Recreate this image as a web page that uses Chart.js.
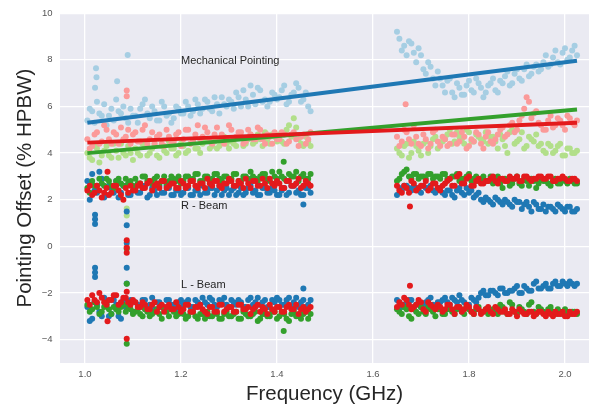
<!DOCTYPE html>
<html>
<head>
<meta charset="utf-8">
<script src="https://cdn.jsdelivr.net/npm/chart.js@4.4.0/dist/chart.umd.min.js"></script>
<style>
  html, body { margin: 0; padding: 0; background: #fff; }
</style>
</head>
<body>
<canvas id="chart" width="596" height="409"></canvas>
<script>
// frequency samples (GHz), two observing bands
const freq = [
  1.005, 1.015, 1.025, 1.035, 1.045, 1.055, 1.065, 1.075, 1.085, 1.095,
  1.105, 1.115, 1.125, 1.135, 1.145, 1.155, 1.165, 1.175, 1.185, 1.195,
  1.205, 1.215, 1.225, 1.235, 1.245, 1.255, 1.265, 1.275, 1.285, 1.295,
  1.305, 1.315, 1.325, 1.335, 1.345, 1.355, 1.365, 1.375, 1.385, 1.395,
  1.405, 1.415, 1.425, 1.435, 1.445, 1.455, 1.465,
  1.655, 1.665, 1.675, 1.685, 1.695, 1.705, 1.715, 1.725, 1.735, 1.745,
  1.755, 1.765, 1.775, 1.785, 1.795, 1.805, 1.815, 1.825, 1.835, 1.845,
  1.855, 1.865, 1.875, 1.885, 1.895, 1.905, 1.915, 1.925, 1.935, 1.945,
  1.955, 1.965, 1.975, 1.985, 1.995, 2.005, 2.015, 2.025
]
// second, interleaved pass of samples
const freq2 = [
  1.010, 1.020, 1.030, 1.040, 1.050, 1.060, 1.070, 1.080, 1.090, 1.100,
  1.110, 1.120, 1.130, 1.140, 1.150, 1.160, 1.170, 1.180, 1.190, 1.200,
  1.210, 1.220, 1.230, 1.240, 1.250, 1.260, 1.270, 1.280, 1.290, 1.300,
  1.310, 1.320, 1.330, 1.340, 1.350, 1.360, 1.370, 1.380, 1.390, 1.400,
  1.410, 1.420, 1.430, 1.440, 1.450, 1.460, 1.470,
  1.650, 1.660, 1.670, 1.680, 1.690, 1.700, 1.710, 1.720, 1.730, 1.740,
  1.750, 1.760, 1.770, 1.780, 1.790, 1.800, 1.810, 1.820, 1.830, 1.840,
  1.850, 1.860, 1.870, 1.880, 1.890, 1.900, 1.910, 1.920, 1.930, 1.940,
  1.950, 1.960, 1.970, 1.980, 1.990, 2.000, 2.010, 2.020
]

// mechanical pointing
const mechBlue = [
  5.4, 5.8, 6.2, 5.6, 5.2, 5.9, 6.3, 5.7, 5.5, 5.9,
  5.6, 5.9, 6.3, 5.5, 5.8, 5.4, 6.0, 5.7, 5.5, 5.9,
  5.7, 6.0, 5.8, 6.1, 5.9, 6.2, 5.8, 6.1, 6.4, 6.0,
  6.2, 6.6, 6.0, 6.3, 6.9, 6.1, 6.7, 6.3, 6.2, 6.5,
  6.4, 6.9, 6.2, 6.6, 6.8, 6.3, 6.0,
  8.9, 8.6, 8.8, 8.3, 8.5, 7.6, 7.9, 7.2, 7.5, 6.9,
  7.1, 6.6, 7.0, 6.5, 6.9, 6.7, 7.2, 6.8, 6.6, 7.0,
  6.7, 7.1, 7.3, 6.9, 7.4, 7.2, 7.6, 7.3, 7.7, 7.5,
  7.9, 7.7, 8.1, 7.9, 8.3, 8.0, 8.4, 8.2
]
const mechBlue2 = [
  5.9, 5.3, 5.7, 6.1, 5.6, 5.4, 5.8, 6.0, 5.3, 5.6,
  5.3, 6.1, 5.7, 6.0, 5.4, 6.2, 5.6, 5.3, 6.0, 5.7,
  6.2, 5.6, 6.3, 5.7, 6.3, 5.9, 6.4, 5.7, 6.1, 6.3,
  5.9, 6.4, 6.7, 6.0, 6.5, 6.8, 6.2, 6.0, 6.6, 6.3,
  6.7, 6.1, 6.5, 7.0, 6.2, 6.6, 5.8,
  9.2, 8.4, 8.2, 8.7, 7.9, 8.2, 7.4, 7.7, 6.9, 7.2,
  6.6, 7.2, 6.4, 6.8, 6.5, 7.1, 6.6, 7.0, 6.4, 6.9,
  7.2, 6.6, 7.0, 7.5, 7.0, 7.6, 7.1, 7.8, 7.4, 7.8,
  7.6, 8.2, 7.8, 8.4, 7.8, 8.5, 8.1, 8.6
]
const mechPink = [
  4.6, 4.3, 4.9, 4.5, 5.0, 4.4, 4.8, 5.1, 4.7, 4.4,
  4.9, 4.5, 5.2, 4.6, 4.4, 4.8, 4.3, 4.7, 4.5, 4.9,
  4.6, 5.0, 4.5, 5.2, 4.7, 4.9, 4.4, 5.1, 4.8, 4.6,
  5.0, 4.7, 4.9, 4.5, 4.8, 4.6, 5.0, 4.4, 4.7, 4.9,
  4.6, 4.8, 4.5, 4.9, 4.3, 4.8, 4.6,
  4.3, 5.0, 4.6, 5.2, 4.4, 4.8, 4.2, 4.9, 4.5, 4.7,
  4.3, 4.8, 4.4, 4.9, 4.2, 4.6, 4.9, 4.4, 4.7, 4.5,
  4.6, 5.0, 4.7, 5.2, 4.9, 5.4, 5.9, 6.2, 5.7, 5.3,
  5.0, 5.4, 5.1, 5.5, 5.2, 5.6, 5.3, 5.4
]
const mechPink2 = [
  4.2, 4.8, 4.4, 5.2, 4.6, 4.9, 4.4, 4.6, 5.0, 4.8,
  4.5, 5.0, 4.4, 4.9, 4.7, 4.4, 5.0, 4.4, 4.8, 4.3,
  5.0, 4.4, 4.8, 4.6, 5.1, 4.5, 4.8, 4.6, 4.4, 5.2,
  4.6, 4.9, 4.4, 5.0, 4.6, 5.1, 4.6, 4.8, 4.4, 4.6,
  4.9, 4.4, 4.8, 4.6, 4.7, 4.4, 4.9,
  4.7, 4.5, 4.9, 4.4, 4.7, 4.3, 4.6, 4.4, 5.0, 4.3,
  4.6, 4.4, 4.8, 4.5, 4.7, 4.3, 4.5, 4.8, 4.2, 4.9,
  4.4, 4.8, 5.1, 4.8, 5.3, 5.0, 5.6, 6.4, 5.5, 5.8,
  5.2, 5.0, 5.6, 5.2, 5.4, 5.0, 5.5, 5.2
]
const mechGreen = [
  4.0, 3.7, 4.2, 3.9, 4.3, 3.8, 4.1, 4.4, 3.9, 4.0,
  4.2, 3.9, 4.3, 4.0, 4.4, 3.8, 4.1, 4.5, 4.2, 4.0,
  4.3, 4.1, 4.5, 4.2, 4.4, 4.6, 4.3, 4.2, 4.5, 4.4,
  4.5, 4.3, 4.7, 4.4, 4.8, 4.5, 4.6, 4.9, 4.4, 4.7,
  4.8, 4.4, 5.2, 5.5, 4.6, 4.3, 4.5,
  4.0, 4.3, 3.8, 4.5, 4.1, 4.4, 4.0, 4.6, 4.2, 4.5,
  4.8, 4.4, 4.9, 4.6, 5.0, 4.5, 4.8, 4.6, 4.9, 4.7,
  4.5, 4.8, 4.3, 4.9, 4.4, 4.6, 4.2, 4.7, 4.5, 4.3,
  4.1, 4.4, 4.0, 4.3, 3.9, 4.2, 4.0, 4.1
]
const mechGreen2 = [
  3.8, 4.3, 3.6, 4.1, 3.9, 4.4, 3.8, 4.0, 4.3, 3.7,
  4.0, 4.4, 3.9, 4.2, 3.9, 4.3, 4.0, 4.2, 3.9, 4.4,
  4.0, 4.4, 4.2, 4.0, 4.6, 4.2, 4.5, 4.3, 4.7, 4.2,
  4.4, 4.7, 4.3, 4.6, 4.4, 4.8, 4.3, 4.6, 4.8, 4.5,
  4.5, 5.0, 4.7, 5.1, 4.4, 4.7, 4.3,
  4.2, 3.9, 4.4, 4.0, 4.3, 3.9, 4.5, 4.3, 4.7, 4.4,
  4.6, 5.0, 4.5, 4.7, 4.4, 4.9, 4.5, 4.7, 4.5, 4.4,
  4.7, 4.2, 4.6, 4.0, 5.0, 4.5, 4.9, 4.3, 4.6, 4.8,
  4.4, 4.0, 4.3, 4.1, 4.4, 3.9, 4.2, 4.0
]

// R - Beam
const rBlue = [
  2.8, 3.1, 2.3, 2.9, 2.2, 2.5, 2.8, 2.3, 2.6, 2.2,
  2.5, 2.3, 2.6, 2.2, 2.4, 2.6, 2.3, 2.5, 2.2, 2.4,
  2.3, 2.5, 2.2, 2.4, 2.6, 2.3, 2.5, 2.4, 2.2, 2.5,
  2.4, 2.2, 2.5, 2.3, 2.6, 2.4, 2.2, 2.5, 2.3, 2.4,
  2.2, 2.5, 2.3, 2.6, 2.4, 2.2, 2.5,
  2.5, 2.6, 2.5, 2.6, 2.4, 2.6, 2.5, 2.4, 2.5, 2.3,
  2.4, 2.2, 2.4, 2.3, 2.5, 2.4, 2.2, 2.0, 2.1, 1.9,
  2.1, 1.9, 2.0, 1.8, 2.0, 1.9, 1.8, 1.7, 1.9, 1.6,
  1.8, 1.7, 1.6, 1.8, 1.6, 1.7, 1.5, 1.6
]
const rBlue2 = [
  2.0, 2.4, 3.2, 2.1, 2.6, 2.3, 2.1, 2.6, 2.2, 2.4,
  2.3, 2.5, 2.1, 2.5, 2.2, 2.3, 2.6, 2.2, 2.4, 2.2,
  2.5, 2.2, 2.4, 2.2, 2.3, 2.5, 2.2, 2.6, 2.4, 2.2,
  2.5, 2.3, 2.2, 2.5, 2.3, 2.2, 2.5, 2.3, 2.5, 2.2,
  2.4, 2.2, 2.6, 2.3, 2.2, 2.5, 2.3,
  2.2, 2.4, 2.6, 2.4, 2.5, 2.3, 2.5, 2.6, 2.3, 2.5,
  2.2, 2.4, 2.1, 2.5, 2.2, 2.3, 2.1, 2.3, 1.9, 2.0,
  1.8, 2.0, 1.8, 1.9, 1.7, 1.9, 1.6, 1.9, 1.5, 1.8,
  1.6, 1.5, 1.7, 1.5, 1.7, 1.5, 1.7, 1.5
]
const rGreen = [
  2.5, 2.8, 2.6, 2.7, 2.9, 2.6, 2.8, 2.7, 2.9, 2.8,
  2.9, 2.7, 3.0, 2.8, 2.9, 2.7, 3.0, 2.8, 2.9, 3.0,
  2.8, 3.0, 2.9, 3.1, 2.8, 3.0, 2.9, 3.1, 2.8, 3.0,
  2.9, 3.1, 2.8, 3.0, 3.2, 2.9, 3.0, 3.1, 2.8, 3.0,
  3.2, 2.9, 3.1, 3.0, 2.8, 3.1, 2.9,
  2.9, 3.2, 3.0, 3.1, 2.9, 3.0, 3.1, 2.9, 3.0, 3.1,
  2.9, 3.0, 3.1, 2.9, 3.0, 2.8, 3.0, 2.9, 2.8, 3.0,
  2.9, 2.7, 2.9, 2.6, 2.9, 2.7, 2.9, 2.6, 2.8, 2.7,
  2.8, 2.7, 2.8, 2.7, 2.9, 2.7, 2.8, 2.7
]
const rGreen2 = [
  2.3, 2.6, 2.9, 2.6, 2.8, 2.5, 2.9, 2.6, 2.7, 2.6,
  2.7, 3.0, 2.8, 2.7, 3.0, 2.8, 2.7, 3.0, 2.8, 2.7,
  3.0, 2.8, 3.1, 2.8, 3.0, 2.8, 3.1, 2.9, 3.0, 2.8,
  3.1, 2.8, 3.0, 2.9, 3.0, 2.8, 3.1, 2.9, 3.2, 2.9,
  3.0, 2.8, 3.0, 3.2, 3.0, 2.9, 3.1,
  2.8, 3.1, 3.3, 2.9, 3.1, 3.0, 2.9, 3.1, 3.0, 2.9,
  3.1, 2.9, 3.0, 2.8, 2.9, 3.1, 2.9, 2.8, 3.0, 2.8,
  2.7, 3.0, 2.5, 2.8, 2.7, 3.0, 2.6, 2.8, 2.9, 2.5,
  2.9, 2.8, 2.6, 2.9, 2.7, 2.8, 2.9, 2.7
]
const rRed = [
  2.4, 2.2, 2.6, 2.1, 2.5, 2.3, 2.6, 2.2, 2.5, 2.6,
  2.4, 2.7, 2.5, 2.8, 2.6, 2.5, 2.8, 2.6, 2.7, 2.5,
  2.7, 2.6, 2.8, 2.5, 2.7, 2.9, 2.6, 2.8, 2.5, 2.7,
  2.8, 2.6, 2.7, 2.9, 2.5, 2.8, 2.6, 2.7, 2.9, 2.6,
  2.7, 2.5, 2.8, 2.6, 2.9, 2.6, 2.7,
  2.4, 2.6, 2.3, 2.7, 2.5, 2.6, 2.4, 2.7, 2.5, 2.6,
  2.8, 2.6, 3.0, 2.7, 2.9, 2.6, 2.8, 2.7, 2.8, 2.9,
  2.8, 2.9, 2.8, 3.0, 2.9, 2.8, 3.0, 2.9, 2.9, 3.0,
  2.9, 3.0, 2.8, 2.9, 3.0, 2.8, 2.9, 2.8
]
const rRed2 = [
  2.6, 2.3, 2.4, 2.3, 2.2, 2.6, 2.4, 2.0, 2.3, 2.4,
  2.6, 2.5, 2.7, 2.4, 2.7, 2.8, 2.5, 2.7, 2.5, 2.8,
  2.5, 2.8, 2.6, 2.7, 2.5, 2.7, 2.8, 2.6, 2.7, 2.9,
  2.6, 2.8, 2.5, 2.7, 2.8, 2.6, 2.9, 2.5, 2.7, 2.8,
  2.5, 2.8, 2.6, 2.7, 2.5, 2.8, 2.6,
  2.6, 2.3, 2.5, 2.8, 2.4, 2.6, 2.8, 2.5, 2.7, 2.4,
  2.7, 2.9, 2.6, 3.1, 2.7, 3.0, 2.6, 2.9, 2.7, 2.8,
  3.0, 2.7, 2.9, 2.8, 2.9, 3.0, 2.8, 3.0, 2.8, 2.9,
  3.0, 2.9, 3.0, 2.8, 2.9, 2.9, 2.8, 2.9
]

// L - Beam
const lBlue = [
  -2.6, -3.1, -2.5, -3.0, -2.4, -2.9, -2.5, -3.1, -2.6, -2.3,
  -2.4, -2.6, -2.3, -2.5, -2.7, -2.4, -2.6, -2.3, -2.5, -2.4,
  -2.5, -2.3, -2.6, -2.4, -2.2, -2.5, -2.3, -2.6, -2.4, -2.5,
  -2.3, -2.5, -2.4, -2.6, -2.2, -2.4, -2.5, -2.3, -2.6, -2.4,
  -2.3, -2.5, -2.2, -2.4, -2.6, -2.3, -2.5,
  -2.4, -2.5, -2.3, -2.6, -2.4, -2.5, -2.3, -2.5, -2.4, -2.3,
  -2.4, -2.2, -2.4, -2.3, -2.5, -2.2, -2.4, -2.0, -2.1, -1.9,
  -2.0, -1.8, -2.0, -1.9, -1.8, -2.0, -1.7, -1.9, -1.6, -1.8,
  -1.7, -1.8, -1.6, -1.7, -1.5, -1.7, -1.6, -1.6
]
const lBlue2 = [
  -3.2, -2.4, -2.8, -2.2, -3.0, -2.3, -3.0, -2.3, -2.5, -2.8,
  -2.5, -2.3, -2.6, -2.2, -2.4, -2.6, -2.3, -2.5, -2.7, -2.3,
  -2.4, -2.6, -2.3, -2.5, -2.4, -2.2, -2.5, -2.3, -2.2, -2.6,
  -2.4, -2.3, -2.6, -2.3, -2.5, -2.2, -2.4, -2.6, -2.3, -2.2,
  -2.5, -2.3, -2.6, -2.2, -2.4, -2.6, -2.3,
  -2.3, -2.6, -2.4, -2.3, -2.5, -2.6, -2.4, -2.2, -2.6, -2.4,
  -2.2, -2.5, -2.3, -2.1, -2.4, -2.5, -2.3, -2.2, -1.9, -2.1,
  -1.9, -2.1, -1.8, -2.0, -1.9, -1.7, -2.0, -1.8, -1.9, -1.5,
  -1.8, -1.6, -1.8, -1.5, -1.7, -1.6, -1.5, -1.7
]
const lGreen = [
  -2.5, -2.7, -2.6, -2.8, -2.5, -2.9, -2.7, -2.6, -2.8, -2.7,
  -2.8, -2.9, -2.7, -3.0, -2.8, -2.9, -2.7, -3.0, -2.8, -2.9,
  -2.9, -3.0, -2.8, -3.1, -2.9, -2.8, -3.0, -2.9, -3.1, -2.8,
  -3.0, -2.8, -3.1, -2.9, -3.0, -2.8, -3.1, -2.9, -3.0, -2.8,
  -3.0, -2.9, -3.2, -2.8, -3.0, -2.9, -3.1,
  -2.8, -2.6, -3.0, -2.7, -2.9, -2.8, -2.6, -2.8, -2.7, -2.9,
  -2.7, -2.8, -2.7, -2.8, -2.6, -2.8, -2.7, -2.8, -2.7, -2.8,
  -2.8, -2.5, -2.8, -2.4, -2.8, -2.6, -2.8, -2.5, -2.8, -2.6,
  -2.8, -2.7, -2.8, -2.7, -2.9, -2.8, -2.8, -2.9
]
const lGreen2 = [
  -2.8, -2.4, -2.9, -2.6, -2.7, -2.6, -2.8, -2.5, -2.6, -2.9,
  -2.7, -3.0, -2.8, -2.9, -2.7, -3.1, -2.8, -2.7, -3.0, -2.8,
  -3.1, -2.8, -3.0, -2.9, -3.1, -3.0, -2.8, -3.1, -2.9, -3.0,
  -2.9, -3.1, -2.8, -3.0, -2.9, -3.2, -2.9, -3.0, -2.8, -3.1,
  -2.8, -3.1, -2.9, -3.0, -3.1, -2.8, -2.9,
  -2.7, -2.9, -2.7, -3.1, -2.8, -2.6, -2.9, -2.7, -3.0, -2.7,
  -2.9, -2.7, -2.9, -2.6, -2.9, -2.7, -2.9, -2.6, -2.8, -2.9,
  -2.7, -2.9, -2.6, -2.9, -2.5, -2.9, -2.7, -2.9, -2.4, -2.9,
  -2.7, -2.9, -2.6, -2.9, -2.8, -2.7, -2.9, -2.8
]
const lRed = [
  -2.3, -2.1, -2.4, -2.2, -2.5, -2.3, -2.1, -2.4, -2.2, -2.5,
  -2.4, -2.6, -2.5, -2.7, -2.4, -2.6, -2.8, -2.5, -2.7, -2.6,
  -2.7, -2.5, -2.8, -2.6, -2.7, -2.9, -2.6, -2.8, -2.5, -2.7,
  -2.6, -2.8, -2.5, -2.7, -2.9, -2.6, -2.8, -2.7, -2.5, -2.8,
  -2.6, -2.8, -2.5, -2.7, -2.9, -2.6, -2.7,
  -2.4, -2.2, -2.5, -2.6, -2.3, -2.7, -2.4, -2.6, -2.5, -2.8,
  -2.5, -2.7, -2.6, -2.8, -2.5, -2.8, -2.6, -2.9, -2.7, -2.8,
  -2.6, -2.8, -2.7, -2.9, -2.8, -2.7, -2.9, -2.8, -3.0, -2.8,
  -2.9, -2.8, -3.0, -2.9, -2.8, -3.0, -2.9, -2.8
]
const lRed2 = [
  -2.5, -2.3, -2.0, -2.4, -2.3, -2.1, -2.5, -2.2, -2.4, -2.3,
  -2.6, -2.4, -2.7, -2.5, -2.8, -2.5, -2.6, -2.7, -2.4, -2.8,
  -2.5, -2.8, -2.6, -2.5, -2.8, -2.6, -2.8, -2.5, -2.8, -2.6,
  -2.8, -2.5, -2.7, -2.6, -2.7, -2.5, -2.6, -2.9, -2.7, -2.6,
  -2.8, -2.6, -2.7, -2.5, -2.7, -2.8, -2.6,
  -2.6, -2.5, -2.3, -2.7, -2.5, -2.4, -2.8, -2.5, -2.7, -2.6,
  -2.7, -2.5, -2.9, -2.6, -2.7, -2.6, -2.9, -2.7, -2.8, -2.6,
  -2.9, -2.7, -2.8, -2.9, -2.7, -3.0, -2.8, -2.9, -2.8, -2.9,
  -2.8, -3.0, -2.9, -2.8, -2.9, -3.0, -2.8, -2.9
]

// stray points away from the main bands
const mechBlueOutFreq = [1.023, 1.024, 1.021, 1.067, 1.089]
const mechBlueOutVals = [7.64, 7.25, 6.8, 7.08, 8.21]
const mechPinkOutFreq = [1.087, 1.087, 1.087, 1.668]
const mechPinkOutVals = [6.68, 6.44, 0.0, 6.1]
const mechGreenOutFreq = [1.087, 1.087]
const mechGreenOutVals = [1.63, 1.33]
const blueOutFreq = [1.087, 1.087, 1.087, 1.087, 1.087, 1.021, 1.021, 1.021, 1.021, 1.021, 1.021, 1.455, 1.455]
const blueOutVals = [1.5, 0.91, 0.15, -0.92, -1.59, 1.36, 1.16, 0.96, -0.92, -1.12, -1.31, 1.8, -1.8]
const greenOutFreq = [1.087, 1.087, 1.087, 1.414, 1.414]
const greenOutVals = [-4.17, -0.1, -1.6, 3.63, -3.63]
const redOutFreq = [1.087, 1.087, 1.087, 1.087, 1.047, 1.047, 1.087, 1.677, 1.677]
const redOutVals = [0.26, -0.06, -0.27, -3.96, 3.2, -3.21, -1.95, 1.71, -1.69]

// linear fits to the mechanical pointing
const fitFreq = [1.005, 2.025]
const fitBlue = [5.30, 7.96]
const fitGreen = [4.00, 5.87]
const fitRed = [4.45, 5.30]

const xTicks = [1.0, 1.2, 1.4, 1.6, 1.8, 2.0]
const yTicks = [-4, -2, 0, 2, 4, 6, 8, 10]

const notes = [
  { text: 'Mechanical Pointing', x: 1.2, y: 7.97 },
  { text: 'R - Beam', x: 1.2, y: 1.74 },
  { text: 'L - Beam', x: 1.2, y: -1.67 }
]

const FONT = "'Liberation Sans', Arial, Helvetica, sans-serif"
Chart.defaults.font.family = FONT

function pts(xs, ys){
  return xs.map((x, i) => ({ x: x, y: ys[i] }))
}

function dots(color, ys, ys2, outF, outV, order){
  return {
    data: pts(freq, ys).concat(pts(freq2, ys2), pts(outF, outV)),
    backgroundColor: color,
    borderWidth: 0,
    pointRadius: 3,
    pointHoverRadius: 3,
    order: order
  }
}

function fit(color, ys, order){
  return {
    data: pts(fitFreq, ys),
    showLine: true,
    borderColor: color,
    borderWidth: 4,
    pointRadius: 0,
    order: order
  }
}

const plotBg = {
  id: 'plotBg',
  beforeDraw(chart){
    const { ctx, chartArea: a } = chart
    ctx.save()
    ctx.fillStyle = '#eaeaf2'
    ctx.fillRect(a.left, a.top, a.right - a.left, a.bottom - a.top)
    ctx.restore()
  }
}

const noteText = {
  id: 'noteText',
  afterDatasetsDraw(chart){
    const { ctx, scales } = chart
    ctx.save()
    ctx.fillStyle = '#262626'
    ctx.font = '11px ' + FONT
    ctx.textBaseline = 'middle'
    ctx.textAlign = 'left'
    notes.forEach(n => {
      ctx.fillText(n.text, scales.x.getPixelForValue(n.x), scales.y.getPixelForValue(n.y))
    })
    ctx.restore()
  }
}

new Chart(document.getElementById('chart'), {
  type: 'scatter',
  data: {
    datasets: [
      fit('#1f78b4', fitBlue, 1),
      fit('#e31a1c', fitRed, 2),
      fit('#33a02c', fitGreen, 3),
      dots('#e31a1c', rRed, rRed2, redOutFreq, redOutVals, 4),
      dots('#e31a1c', lRed, lRed2, [], [], 4),
      dots('#33a02c', rGreen, rGreen2, greenOutFreq, greenOutVals, 5),
      dots('#33a02c', lGreen, lGreen2, [], [], 5),
      dots('#1f78b4', rBlue, rBlue2, blueOutFreq, blueOutVals, 6),
      dots('#1f78b4', lBlue, lBlue2, [], [], 6),
      dots('#fb9a99', mechPink, mechPink2, mechPinkOutFreq, mechPinkOutVals, 7),
      dots('#b2df8a', mechGreen, mechGreen2, mechGreenOutFreq, mechGreenOutVals, 8),
      dots('#a6cee3', mechBlue, mechBlue2, mechBlueOutFreq, mechBlueOutVals, 9)
    ]
  },
  options: {
    responsive: false,
    animation: false,
    layout: { padding: { top: 10, right: 7, left: 0, bottom: 0 } },
    plugins: {
      legend: { display: false },
      tooltip: { enabled: false }
    },
    scales: {
      x: {
        type: 'linear',
        min: 0.948,
        max: 2.05,
        afterBuildTicks: s => { s.ticks = xTicks.map(v => ({ value: v })) },
        afterFit: s => { s.height = 46 },
        grid: { color: '#ffffff', lineWidth: 1.3, drawTicks: false },
        border: { display: false },
        ticks: { padding: 6, color: '#555555', font: { size: 9.5 }, callback: v => v.toFixed(1) },
        title: { display: true, text: 'Frequency (GHz)', color: '#262626', font: { size: 20.5, lineHeight: 1.2 }, padding: { top: 0, bottom: 2 } }
      },
      y: {
        type: 'linear',
        min: -5,
        max: 10,
        afterBuildTicks: s => { s.ticks = yTicks.map(v => ({ value: v })) },
        afterFit: s => { s.width = 60 },
        grid: { color: '#ffffff', lineWidth: 1.3, drawTicks: false },
        border: { display: false },
        ticks: { padding: 7.5, color: '#555555', font: { size: 9.5 }, callback: v => String(v).replace('-', '\u2212') },
        title: { display: true, text: 'Pointing Offset (% HPBW)', color: '#262626', font: { size: 20.5, lineHeight: 1.2 }, padding: { top: 13, bottom: 0 } }
      }
    }
  },
  plugins: [plotBg, noteText]
})
</script>
</body>
</html>
